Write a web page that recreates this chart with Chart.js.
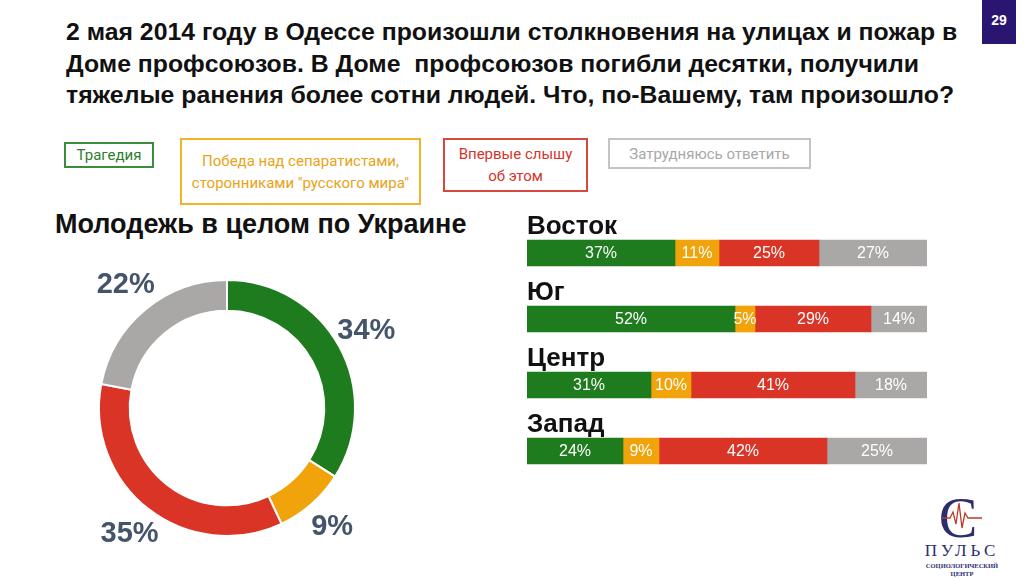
<!DOCTYPE html>
<html lang="ru">
<head>
<meta charset="utf-8">
<script src="https://cdn.jsdelivr.net/npm/chart.js"></script>
<style>
  body { margin: 0; width: 1024px; height: 579px; background: #fff; position: relative; overflow: hidden; font-family: "Liberation Sans", Arial, sans-serif; }
  .title { position: absolute; left: 66px; top: 16px; font-size: 24.8px; font-weight: bold; line-height: 31.5px; color: #111; white-space: nowrap; }
  .page-num { position: absolute; left: 982px; top: 0; width: 34px; height: 44px; background: #2a1670; color: #fff; font-weight: bold; font-size: 14px; text-align: center; line-height: 40px; }
  .legend-box { position: absolute; border: 2px solid; font-family: Roboto, "Open Sans", sans-serif; font-size: 15px; text-align: center; box-sizing: border-box; display: flex; align-items: center; justify-content: center; line-height: 22px; }
  .subtitle { position: absolute; left: 55px; top: 209px; font-size: 27px; font-weight: bold; color: #111; white-space: nowrap; }
  canvas { position: absolute; }
  .logo { position: absolute; left: 912px; top: 492px; width: 100px; height: 86px; text-align: center; color: #2b2d6e; }
</style>
</head>
<body>

<div class="title">2 мая 2014 году в Одессе произошли столкновения на улицах и пожар в<br>Доме профсоюзов. В Доме&nbsp; профсоюзов погибли десятки, получили<br>тяжелые ранения более сотни людей. Что, по-Вашему, там произошло?</div>
<div class="page-num">29</div>

<!-- legend -->
<div class="legend-box" style="left:64px;top:142px;width:90px;height:26px;border-color:#3d8b3d;color:#2e7d32;">Трагедия</div>
<div class="legend-box" style="left:180px;top:138px;width:241px;height:67px;border-color:#efb429;color:#e8a317;">Победа над сепаратистами,<br>сторонниками "русского мира"</div>
<div class="legend-box" style="left:443px;top:138px;width:145px;height:54px;border-color:#d9463b;color:#d4342a;">Впервые слышу<br>об этом</div>
<div class="legend-box" style="left:608px;top:138px;width:203px;height:31px;border-color:#c4c4c4;color:#a8a8a8;">Затрудняюсь ответить</div>

<div class="subtitle">Молодежь в целом по Украине</div>

<canvas id="donutChart" width="360" height="360" style="left:47px;top:228px;"></canvas>
<canvas id="regionChart" width="400" height="284" style="left:527px;top:200px;"></canvas>

<!-- logo -->
<div class="logo">
  <svg width="100" height="50" viewBox="0 0 100 50" style="position:absolute;left:0;top:0;">
    <text x="46" y="45" text-anchor="middle" font-family="Liberation Serif, serif" font-size="58" fill="#2b2d6e">C</text>
    <polyline points="30,26 38,26 41,20 44,32 47,11 50,36 53,21 56,26 70,26" fill="none" stroke="#c0392b" stroke-width="1.3"/>
  </svg>
  <div style="position:absolute;left:0;top:50px;width:100px;font-family:'Liberation Serif',serif;font-size:17px;letter-spacing:4px;line-height:17px;">ПУЛЬС</div>
  <div style="position:absolute;left:0;top:70px;width:100px;font-family:'Liberation Serif',serif;font-size:6.5px;line-height:8px;font-weight:bold;">СОЦИОЛОГИЧЕСКИЙ<br>ЦЕНТР</div>
</div>

<script>
    // answer categories
    const answers = ['Трагедия', 'Победа над сепаратистами, сторонниками "русского мира"', 'Впервые слышу об этом', 'Затрудняюсь ответить'];
    const answerColors = ['#1e7b1e', '#f0a30a', '#da3426', '#aaa8a6'];

    // youth across Ukraine, %
    const ukraineValues = [34, 9, 35, 22];

    // regions, %
    const regions = ['Восток', 'Юг', 'Центр', 'Запад'];
    const tragedyValues = [37, 52, 31, 24];
    const victoryValues = [11, 5, 10, 9];
    const firstHearValues = [25, 29, 41, 42];
    const hardToSayValues = [27, 14, 18, 25];

    // doughnut labels outside the ring
    const donutLabels = {
        id: 'donutLabels',
        afterDatasetsDraw(chart) {
            const ctx = chart.ctx;
            const meta = chart.getDatasetMeta(0);
            ctx.save();
            ctx.font = 'bold 29px "Liberation Sans", Arial, sans-serif';
            ctx.fillStyle = '#44546a';
            ctx.textAlign = 'center';
            ctx.textBaseline = 'middle';
            meta.data.forEach((arc, i) => {
                const p = arc.getProps(['x', 'y', 'startAngle', 'endAngle', 'outerRadius'], true);
                const mid = (p.startAngle + p.endAngle) / 2;
                const r = p.outerRadius + 31;
                ctx.fillText(ukraineValues[i] + '%', p.x + Math.cos(mid) * r, p.y + Math.sin(mid) * r);
            });
            ctx.restore();
        }
    };

    new Chart(document.getElementById('donutChart'), {
        type: 'doughnut',
        data: {
            labels: answers,
            datasets: [{
                data: ukraineValues,
                backgroundColor: answerColors,
                borderColor: '#ffffff',
                borderWidth: 2
            }]
        },
        options: {
            responsive: false,
            animation: false,
            cutout: '76%',
            layout: { padding: 51 },
            plugins: { legend: { display: false }, tooltip: { enabled: false } }
        },
        plugins: [donutLabels]
    });

    // region names above bars + white value labels inside segments
    const barLabels = {
        id: 'barLabels',
        afterDatasetsDraw(chart) {
            const ctx = chart.ctx;
            ctx.save();
            ctx.textBaseline = 'middle';
            ctx.textAlign = 'center';
            ctx.fillStyle = '#ffffff';
            ctx.font = '16px "Liberation Sans", Arial, sans-serif';
            chart.data.datasets.forEach((ds, d) => {
                chart.getDatasetMeta(d).data.forEach((bar, i) => {
                    const p = bar.getProps(['x', 'y', 'base'], true);
                    ctx.fillText(ds.data[i] + '%', (p.x + p.base) / 2, p.y + 1);
                });
            });
            ctx.textAlign = 'left';
            ctx.textBaseline = 'alphabetic';
            ctx.fillStyle = '#111111';
            ctx.font = 'bold 26px "Liberation Sans", Arial, sans-serif';
            chart.getDatasetMeta(0).data.forEach((bar, i) => {
                const p = bar.getProps(['y', 'height'], true);
                ctx.fillText(regions[i], chart.chartArea.left, p.y - p.height / 2 - 6);
            });
            ctx.restore();
        }
    };

    const regionSeries = [tragedyValues, victoryValues, firstHearValues, hardToSayValues];

    new Chart(document.getElementById('regionChart'), {
        type: 'bar',
        data: {
            labels: regions,
            datasets: regionSeries.map((vals, k) => ({
                label: answers[k],
                data: vals,
                backgroundColor: answerColors[k],
                borderWidth: 0,
                barThickness: 26
            }))
        },
        options: {
            indexAxis: 'y',
            responsive: false,
            animation: false,
            layout: { padding: { top: 20, left: 0, right: 0, bottom: 0 } },
            scales: {
                x: { stacked: true, min: 0, max: 100, display: false },
                y: { stacked: true, display: false }
            },
            plugins: { legend: { display: false }, tooltip: { enabled: false } }
        },
        plugins: [barLabels]
    });
</script>
</body>
</html>
